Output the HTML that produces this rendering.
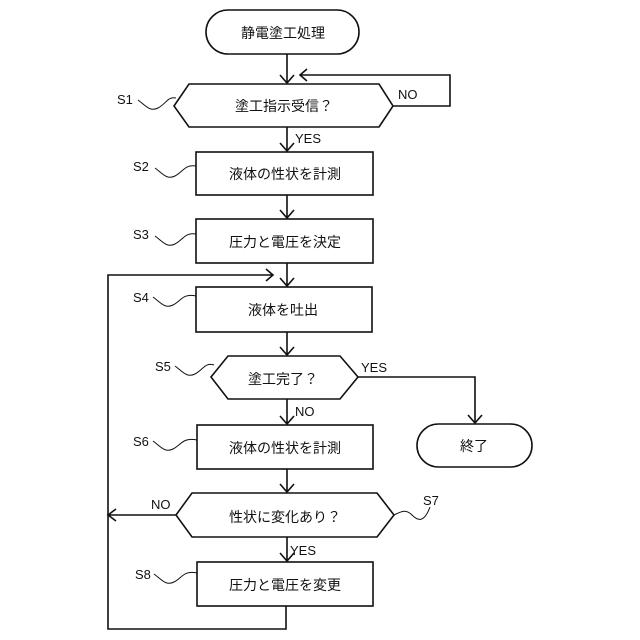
<!DOCTYPE html>
<html><head><meta charset="utf-8"><style>
html,body{margin:0;padding:0;background:#fff}
svg{display:block}
text{font-family:"Liberation Sans","Noto Sans CJK JP",sans-serif;fill:#111}
.j{font-size:14px;text-anchor:middle;dominant-baseline:central}
.l{font-size:13px}
</style></head><body>
<svg width="640" height="640" viewBox="0 0 640 640" xmlns="http://www.w3.org/2000/svg">
<g fill="none" stroke="#111" stroke-width="1.6">
<rect x="206" y="10" width="153" height="44" rx="22"/>
<polygon points="174,106 189,84 379,84 393,106 379,127 189,127"/>
<rect x="196" y="152" width="177" height="43"/>
<rect x="196" y="219" width="177" height="44"/>
<rect x="196" y="287" width="176" height="45"/>
<polygon points="211,377 228,356 340,356 358,377 340,399 228,399"/>
<rect x="417" y="424" width="115" height="43" rx="21.5"/>
<rect x="197" y="425" width="176" height="44"/>
<polygon points="176,515 192,493 377,493 394,515 377,537 192,537"/>
<rect x="197" y="562" width="176" height="44"/>
<!-- connectors -->
<path d="M287 54V83M280 75l7 8 7-8"/>
<path d="M393 106H450V75H300M307 69l-7 6 7 6"/>
<path d="M287 127V151M280 143l7 8 7-8"/>
<path d="M287 195V218M280 210l7 8 7-8"/>
<path d="M287 263V286M280 278l7 8 7-8"/>
<path d="M287 332V355M280 347l7 8 7-8"/>
<path d="M358 377H475V423M468 415l7 8 7-8"/>
<path d="M287 399V424M280 416l7 8 7-8"/>
<path d="M287 469V492M280 484l7 8 7-8"/>
<path d="M287 537V561M280 553l7 8 7-8"/>
<path d="M176 515H108M116 509l-8 6 8 6"/>
<path d="M286 606V629H108V275H273M266 269l7 6-7 6"/>
<!-- squiggles -->
<g stroke-width="1">
<path d="M138 100c8 6 12 12 20 8s10-12 18-10"/>
<path d="M155 168c8 6 12 12 20 8s10-12 21-10"/>
<path d="M155 236c8 6 12 12 20 8s10-12 21-10"/>
<path d="M153 297c8 6 12 12 20 8s10-12 23-9"/>
<path d="M175 366c8 6 12 12 20 8s10-12 19-9"/>
<path d="M153 441c8 6 12 12 20 8s10-12 24-9"/>
<path d="M154 574c8 6 12 12 20 8s10-12 23-9"/>
<path d="M394 515c8-4 12-6 18 0s12 8 18-8"/>
</g>
</g>
<text class="j" x="283" y="33">静電塗工処理</text>
<text class="j" x="284" y="106">塗工指示受信？</text>
<text class="j" x="285" y="174">液体の性状を計測</text>
<text class="j" x="285" y="242">圧力と電圧を決定</text>
<text class="j" x="283" y="310">液体を吐出</text>
<text class="j" x="283" y="379">塗工完了？</text>
<text class="j" x="474" y="446">終了</text>
<text class="j" x="285" y="448">液体の性状を計測</text>
<text class="j" x="285" y="517">性状に変化あり？</text>
<text class="j" x="285" y="585">圧力と電圧を変更</text>
<text class="l" x="398" y="99">NO</text>
<text class="l" x="295" y="143">YES</text>
<text class="l" x="361" y="372">YES</text>
<text class="l" x="295" y="416">NO</text>
<text class="l" x="151" y="509">NO</text>
<text class="l" x="290" y="555">YES</text>
<text class="l" x="117" y="104" font-size="14">S1</text>
<text class="l" x="133" y="171" font-size="14">S2</text>
<text class="l" x="133" y="239" font-size="14">S3</text>
<text class="l" x="133" y="302" font-size="14">S4</text>
<text class="l" x="155" y="371" font-size="14">S5</text>
<text class="l" x="133" y="446" font-size="14">S6</text>
<text class="l" x="423" y="505" font-size="14">S7</text>
<text class="l" x="135" y="579" font-size="14">S8</text>
</svg>
</body></html>
